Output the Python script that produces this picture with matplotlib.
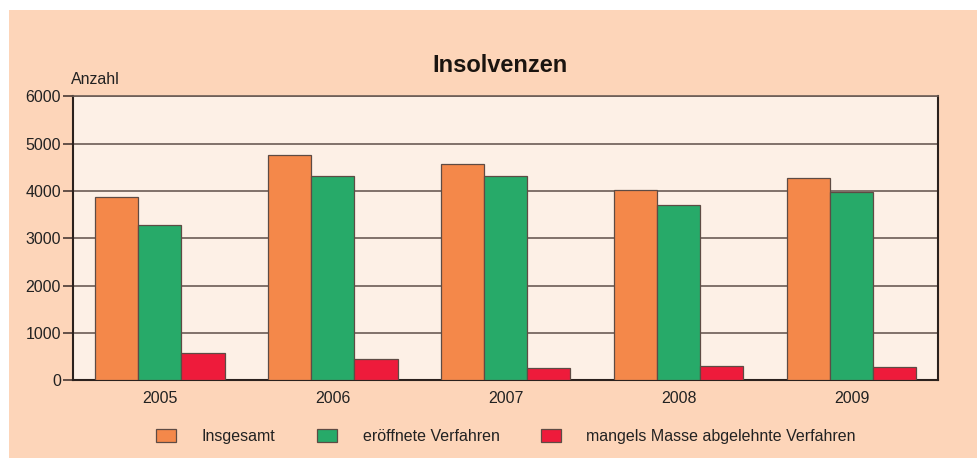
import matplotlib.pyplot as plt
from matplotlib.patches import Rectangle

plt.rcParams['font.family'] = ['Liberation Sans', 'DejaVu Sans']

years = ['2005', '2006', '2007', '2008', '2009']
insgesamt = [3870, 4760, 4570, 4020, 4280]
eroeffnet = [3280, 4320, 4320, 3710, 3970]
abgelehnt = [580, 440, 250, 300, 270]
labels = ['Insgesamt', 'eröffnete Verfahren', 'mangels Masse abgelehnte Verfahren']
colors = ['#f4884a', '#27aa69', '#ee1b3b']

peach = '#fdd5b9'
edge = '#5e4b44'

fig = plt.figure(figsize=(9.77, 4.58), dpi=100)
fig.patch.set_facecolor('white')
fig.patches.append(Rectangle((9 / 977, 0), 1, 1 - 10 / 458, transform=fig.transFigure,
                             facecolor=peach, edgecolor='none', zorder=-10))

ax = fig.add_axes([0.075, 0.1697, 0.885, 0.6203])
ax.set_facecolor('#fdf0e6')

x = range(len(years))
w = 0.25
series = [insgesamt, eroeffnet, abgelehnt]
for i, (vals, col, lab) in enumerate(zip(series, colors, labels)):
    ax.bar([k + (i - 1) * w for k in x], vals, width=w, color=col,
           edgecolor=edge, linewidth=0.9, label=lab, zorder=3)

ax.set_xlim(-0.5, 4.5)
ax.set_ylim(0, 6000)
ax.set_yticks(range(0, 6001, 1000))
ax.set_xticks(list(x))
ax.set_xticklabels(years)
ax.yaxis.grid(True, color='#6b5c55', linewidth=1.2, zorder=1)
ax.set_axisbelow(True)
ax.tick_params(axis='x', length=0, pad=8, labelsize=11.5, labelcolor='#222222')
ax.tick_params(axis='y', length=7, width=1.2, color='#4a3a34', pad=2,
               labelsize=11.5, labelcolor='#222222')
for s in ['left', 'bottom', 'right']:
    ax.spines[s].set_color('#2b211d')
    ax.spines[s].set_linewidth(1.5)
ax.spines['top'].set_color('#6b5c55')
ax.spines['top'].set_linewidth(1.2)

fig.text(0.512, 0.858, 'Insolvenzen', ha='center', va='center',
         fontsize=17, fontweight='bold', color='#1a1410')
fig.text(0.073, 0.81, 'Anzahl', ha='left', va='bottom', fontsize=11.5, color='#222222')

fig.legend(loc='center', bbox_to_anchor=(0.518, 0.048), ncol=3, frameon=False,
           fontsize=11.5, handlelength=1.25, handleheight=0.875,
           handletextpad=1.6, columnspacing=2.6, labelcolor='#222222')

fig.savefig('out.png', dpi=100, facecolor=fig.get_facecolor())
